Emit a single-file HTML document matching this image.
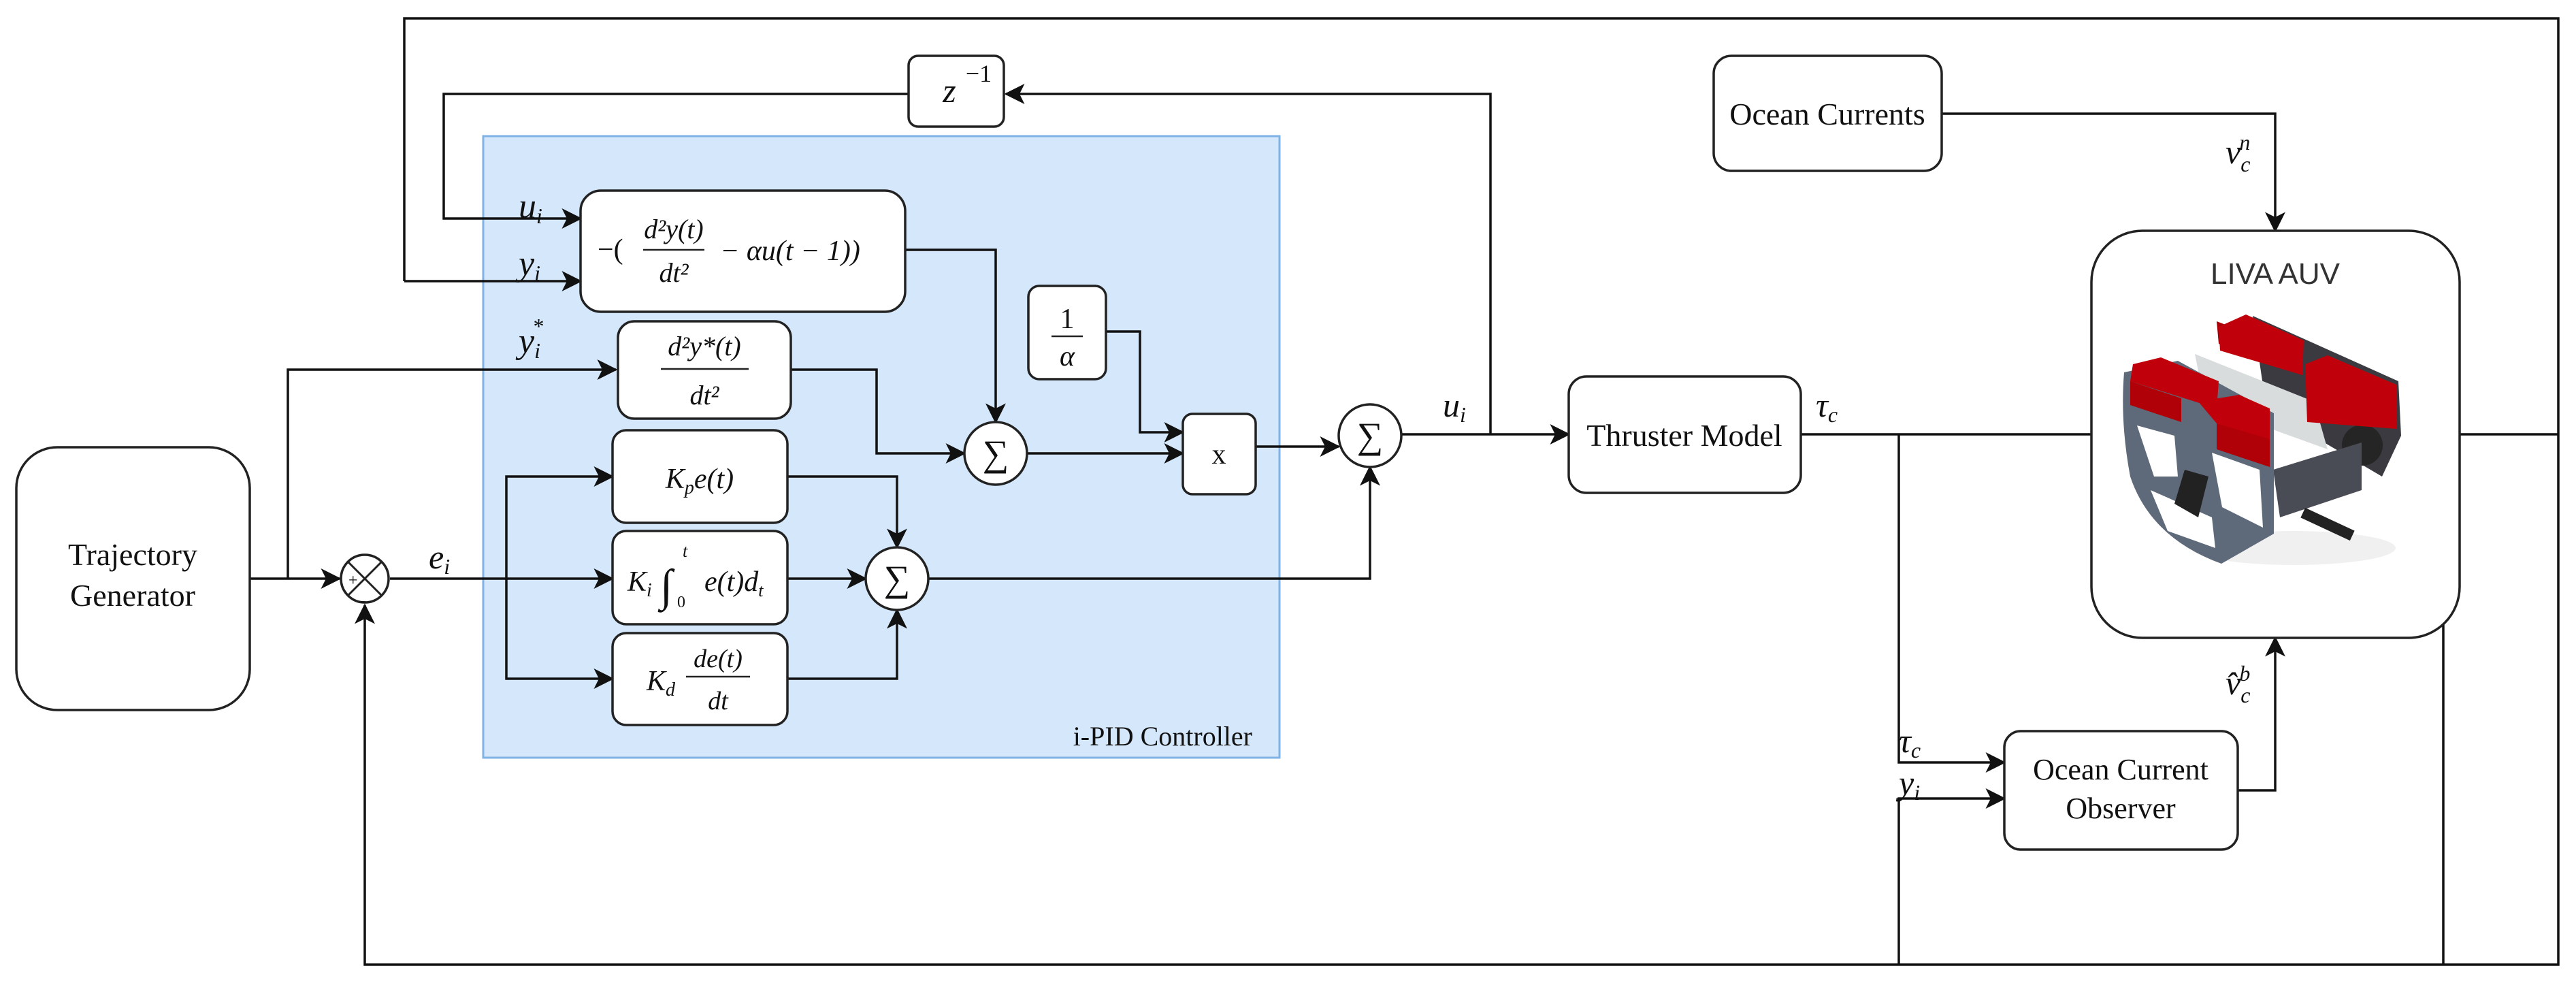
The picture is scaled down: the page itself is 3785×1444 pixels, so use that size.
<!DOCTYPE html>
<html><head><meta charset="utf-8"><style>
html,body{margin:0;padding:0;background:#fff;}
svg{display:block;}
</style></head><body>
<svg width="3785" height="1444" viewBox="0 0 3785 1444" xmlns="http://www.w3.org/2000/svg">
<defs>
<marker id="ar" viewBox="0 0 12 12" refX="11" refY="6" markerWidth="30" markerHeight="30" orient="auto" markerUnits="userSpaceOnUse"><path d="M0,0 L12,6 L0,12 L3,6 Z" fill="#111"/></marker>
</defs>
<rect width="3785" height="1444" fill="#fff"/>
<rect x="710" y="200" width="1170" height="913" fill="#d5e8fb" stroke="#7fb2e5" stroke-width="3"/>
<text x="1840" y="1095" font-family="Liberation Serif,serif" fill="#111" font-size="40" text-anchor="end">i-PID Controller</text>

<g fill="none" stroke="#111" stroke-width="3.5">
<polyline points="594,413 594,27 3759,27 3759,1417 536,1417 536,889" marker-end="url(#ar)"/>
<polyline points="594,413 853,413" marker-end="url(#ar)"/>
<polyline points="2190,638 2190,138 1478,138" marker-end="url(#ar)"/>
<polyline points="1335,138 652,138 652,321 853,321" marker-end="url(#ar)"/>
<polyline points="367,850 499,850" marker-end="url(#ar)"/>
<polyline points="423,850 423,543 905,543" marker-end="url(#ar)"/>
<polyline points="573,850 900,850" marker-end="url(#ar)"/>
<polyline points="744,850 744,700 900,700" marker-end="url(#ar)"/>
<polyline points="744,850 744,997 900,997" marker-end="url(#ar)"/>
<polyline points="1157,700 1318,700 1318,804" marker-end="url(#ar)"/>
<polyline points="1157,850 1272,850" marker-end="url(#ar)"/>
<polyline points="1157,997 1318,997 1318,896" marker-end="url(#ar)"/>
<polyline points="1330,367 1463,367 1463,620" marker-end="url(#ar)"/>
<polyline points="1162,543 1288,543 1288,666 1417,666" marker-end="url(#ar)"/>
<polyline points="1509,666 1738,666" marker-end="url(#ar)"/>
<polyline points="1625,487 1675,487 1675,635 1738,635" marker-end="url(#ar)"/>
<polyline points="1845,656 1967,656" marker-end="url(#ar)"/>
<polyline points="1364,850 2013,850 2013,686" marker-end="url(#ar)"/>
<polyline points="2059,638 2305,638" marker-end="url(#ar)"/>
<polyline points="2646,638 3075,638"/>
<polyline points="2790,638 2790,1120 2945,1120" marker-end="url(#ar)"/>
<polyline points="2790,1417 2790,1173 2945,1173" marker-end="url(#ar)"/>
<polyline points="3288,1161 3343,1161 3343,937" marker-end="url(#ar)"/>
<polyline points="2853,167 3343,167 3343,339" marker-end="url(#ar)"/>
<polyline points="3614,638 3759,638"/>
<polyline points="3590,905 3590,1417"/>
</g>

<g fill="#fff" stroke="#222" stroke-width="3.5">
<rect x="24" y="657" width="343" height="386" rx="60"/>
<rect x="1335" y="82" width="140" height="104" rx="14"/>
<rect x="853" y="280" width="477" height="178" rx="30"/>
<rect x="908" y="472" width="254" height="143" rx="24"/>
<rect x="900" y="632" width="257" height="136" rx="20"/>
<rect x="900" y="780" width="257" height="137" rx="20"/>
<rect x="900" y="930" width="257" height="135" rx="20"/>
<rect x="1511" y="420" width="114" height="137" rx="16"/>
<rect x="1738" y="608" width="107" height="118" rx="14"/>
<rect x="2305" y="553" width="341" height="171" rx="26"/>
<rect x="2518" y="82" width="335" height="169" rx="26"/>
<rect x="3073" y="339" width="541" height="598" rx="75"/>
<rect x="2945" y="1074" width="343" height="174" rx="24"/>
<circle cx="536" cy="850" r="35"/>
<circle cx="1318" cy="850" r="46"/>
<circle cx="1463" cy="666" r="46"/>
<circle cx="2013" cy="640" r="46"/>
</g>
<g stroke="#222" stroke-width="3"><line x1="511" y1="825" x2="561" y2="875"/><line x1="561" y1="825" x2="511" y2="875"/></g>

<g font-family="Liberation Serif,serif" fill="#111">
<text x="512" y="860" font-size="24">+</text>
<text x="530" y="890" font-size="24">-</text>
<text x="195" y="830" font-size="46" text-anchor="middle">Trajectory</text>
<text x="195" y="890" font-size="46" text-anchor="middle">Generator</text>
<text x="1318" y="868" font-size="54" text-anchor="middle">∑</text>
<text x="1463" y="684" font-size="54" text-anchor="middle">∑</text>
<text x="2013" y="658" font-size="54" text-anchor="middle">∑</text>
<text x="1791" y="681" font-size="42" text-anchor="middle">x</text>
<text x="1568" y="482" font-size="42" text-anchor="middle">1</text>
<text x="2475" y="655" font-size="46" text-anchor="middle">Thruster Model</text>
<text x="2685" y="183" font-size="46" text-anchor="middle">Ocean Currents</text>
<text x="3116" y="1145" font-size="44" text-anchor="middle">Ocean Current</text>
<text x="3116" y="1202" font-size="44" text-anchor="middle">Observer</text>
<text x="878" y="380" font-size="42">−(</text>
<text x="995" y="892" font-size="24">0</text>
<text x="970" y="882" font-size="66">∫</text>
<text x="1438" y="120" font-size="36" text-anchor="middle">−1</text>
</g>
<line x1="1545" y1="494" x2="1591" y2="494" stroke="#222" stroke-width="2.5"/>
<line x1="945" y1="367" x2="1035" y2="367" stroke="#222" stroke-width="2.5"/>
<line x1="971" y1="542" x2="1100" y2="542" stroke="#222" stroke-width="2.5"/>
<line x1="1008" y1="994" x2="1102" y2="994" stroke="#222" stroke-width="2.5"/>

<g font-family="Liberation Serif,serif" font-style="italic" fill="#111">
<text x="1395" y="150" font-size="50" text-anchor="middle">z</text>
<text x="1568" y="537" font-size="42" text-anchor="middle">α</text>
<text x="990" y="350" font-size="40" text-anchor="middle">d²y(t)</text>
<text x="990" y="414" font-size="40" text-anchor="middle">dt²</text>
<text x="1058" y="382" font-size="42">− αu(t − 1))</text>
<text x="1035" y="522" font-size="40" text-anchor="middle">d²y*(t)</text>
<text x="1035" y="594" font-size="40" text-anchor="middle">dt²</text>
<text x="1028" y="717" font-size="42" text-anchor="middle">K<tspan font-size="28" dy="8">p</tspan><tspan dy="-8">e(t)</tspan></text>
<text x="922" y="868" font-size="42">K<tspan font-size="28" dy="8">i</tspan></text>
<text x="1003" y="818" font-size="26">t</text>
<text x="1035" y="868" font-size="42">e(t)d<tspan font-size="26" dy="8">t</tspan></text>
<text x="950" y="1014" font-size="42">K<tspan font-size="28" dy="8">d</tspan></text>
<text x="1055" y="980" font-size="38" text-anchor="middle">de(t)</text>
<text x="1055" y="1042" font-size="38" text-anchor="middle">dt</text>
<text x="762" y="320" font-size="52">u<tspan font-size="32" dy="8">i</tspan></text>
<text x="762" y="404" font-size="52">y<tspan font-size="32" dy="8">i</tspan></text>
<text x="762" y="518" font-size="52">y<tspan font-size="32" dy="8">i</tspan><tspan font-size="32" dx="-12" dy="-36">*</tspan></text>
<text x="630" y="835" font-size="50">e<tspan font-size="32" dy="8">i</tspan></text>
<text x="2120" y="612" font-size="50">u<tspan font-size="32" dy="8">i</tspan></text>
<text x="2668" y="612" font-size="50">τ<tspan font-size="32" dy="8">c</tspan></text>
<text x="2790" y="1105" font-size="50">τ<tspan font-size="32" dy="8">c</tspan></text>
<text x="2790" y="1167" font-size="50">y<tspan font-size="32" dy="8">i</tspan></text>
<text x="3270" y="240" font-size="50">v<tspan font-size="32" dy="12">c</tspan><tspan font-size="32" dx="-16" dy="-32">n</tspan></text>
<text x="3270" y="1020" font-size="50">v̂<tspan font-size="32" dy="12">c</tspan><tspan font-size="32" dx="-16" dy="-32">b</tspan></text>
</g>
<text x="3343" y="417" font-family="Liberation Sans,sans-serif" font-size="44" fill="#333" text-anchor="middle">LIVA AUV</text>

<!-- AUV drawing -->
<g>
<ellipse cx="3370" cy="805" rx="150" ry="25" fill="#f0f0f0"/>
<polygon points="3310,464 3524,560 3528,640 3500,700 3330,600" fill="#3b3a40"/>
<polygon points="3225,520 3400,590 3420,660 3240,595" fill="#d8dcdc"/>
<circle cx="3172" cy="650" r="30" fill="#252525"/>
<circle cx="3471" cy="654" r="30" fill="#252525"/>
<polygon points="3340,690 3470,650 3470,720 3350,760" fill="#4a4c55"/>
<polygon points="3257,472 3383,520 3383,551 3260,505" fill="#a80008"/>
<polygon points="3260,480 3300,462 3385,500 3383,551 3262,515" fill="#c0000a"/>
<polygon points="3387,535 3420,522 3521,565 3521,630 3390,620" fill="#c0000a"/>
<path d="M3121,547 L3200,530 L3341,607 L3341,784 L3264,828 Q3160,790 3130,700 Q3115,620 3121,547 Z" fill="#5e6a7a"/>
<polygon points="3134,535 3175,525 3260,560 3257,600 3130,560" fill="#c0000a"/>
<polygon points="3130,560 3205,585 3205,620 3130,595" fill="#b00008"/>
<polygon points="3230,590 3290,580 3335,600 3335,660 3257,622" fill="#c0000a"/>
<polygon points="3257,622 3335,645 3335,686 3257,660" fill="#b00008"/>
<polygon points="3140,625 3195,640 3200,700 3165,700" fill="#fff"/>
<polygon points="3250,665 3320,690 3325,775 3265,745" fill="#fff"/>
<polygon points="3160,720 3250,760 3255,805 3185,780" fill="#fff"/>
<polygon points="3210,690 3245,700 3230,760 3195,740" fill="#222"/>
<rect x="3380" y="762" width="80" height="16" fill="#222" transform="rotate(25 3420 770)"/>
</g>
</svg>
</body></html>
